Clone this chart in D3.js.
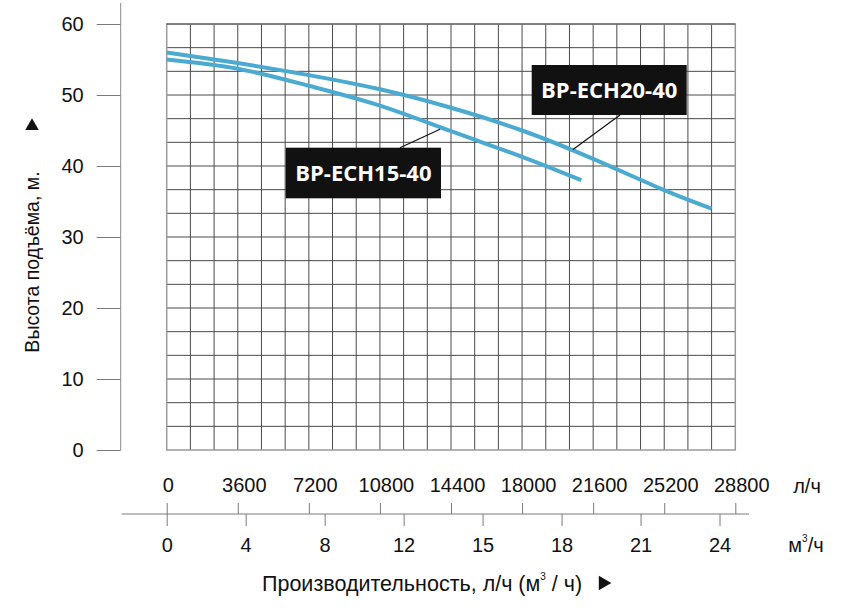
<!DOCTYPE html>
<html>
<head>
<meta charset="utf-8">
<script src="https://cdn.jsdelivr.net/npm/d3@7"></script>
<style>
  body { margin: 0; background: #fff; }
  svg { display: block; }
  text { font-family: "Liberation Sans", Arial, sans-serif; fill: #111; }
</style>
</head>
<body>
<svg id="chart" width="862" height="609"></svg>
<script>
/* Pump head curves BP-ECH15-40 / BP-ECH20-40 */

// flow in l/h, head in m
const flow2040 = [0, 3600, 7200, 10800, 14400, 18000, 21600, 25200, 27600];
const head2040 = [56.0, 54.5, 52.8, 50.8, 48.2, 45.0, 41.0, 36.6, 34.0];
const flow1540 = [0, 3600, 7200, 10800, 14400, 18000, 21000];
const head1540 = [55.0, 53.7, 51.3, 48.5, 44.9, 41.3, 38.0];

const yTicks = [0, 10, 20, 30, 40, 50, 60];
const lphTicks = [0, 3600, 7200, 10800, 14400, 18000, 21600, 25200, 28800];
const m3Labels = ['0', '4', '8', '12', '15', '18', '21', '24'];

const svg = d3.select('#chart');

const x = d3.scaleLinear().domain([0, 28800]).range([166.7, 735.3]);
const y = d3.scaleLinear().domain([0, 60]).range([450, 24]);

// grid: 24 columns x 18 rows
const g = svg.append('g');
g.selectAll('line.v').data(d3.range(1, 24)).join('line')
  .attr('x1', d => x(d * 1200)).attr('x2', d => x(d * 1200))
  .attr('y1', y(60)).attr('y2', y(0))
  .attr('stroke', '#4a4a4a').attr('stroke-width', 1);
g.selectAll('line.h').data(d3.range(1, 18)).join('line')
  .attr('x1', x(0)).attr('x2', x(28800))
  .attr('y1', d => y(d * 60 / 18)).attr('y2', d => y(d * 60 / 18))
  .attr('stroke', '#4a4a4a').attr('stroke-width', 1);
g.append('rect')
  .attr('x', x(0)).attr('y', y(60))
  .attr('width', x(28800) - x(0)).attr('height', y(0) - y(60))
  .attr('fill', 'none').attr('stroke', '#9a9a9a').attr('stroke-width', 1.5);
g.append('line').attr('x1', x(0)).attr('x2', x(28800)).attr('y1', y(60)).attr('y2', y(60))
  .attr('stroke', '#4a4a4a');

const tickFont = sel => sel
  .style('font-family', '"Liberation Sans", Arial, sans-serif')
  .style('font-size', '20px').style('fill', '#111');

// y axis
const yAxis = svg.append('g').attr('transform', 'translate(120.7,0)')
  .call(d3.axisLeft(y).tickValues(yTicks).tickSize(24).tickPadding(13));
yAxis.select('.domain').remove();
yAxis.append('line').attr('x1', 0).attr('x2', 0).attr('y1', 3).attr('y2', y(0))
  .attr('stroke', '#8a8a8a');
yAxis.selectAll('.tick line').attr('stroke', '#7a7a7a');
yAxis.selectAll('.tick text').call(tickFont);

svg.append('text')
  .attr('transform', 'translate(39,262) rotate(-90)')
  .attr('text-anchor', 'middle')
  .style('font-size', '19.5px')
  .text('Высота подъёма, м.');
svg.append('path')
  .attr('d', d3.symbol(d3.symbolTriangle, 80)())
  .attr('transform', 'translate(32,126)')
  .attr('fill', '#111');

// x axes (l/h on top, m3/h below)
const axisY = 514;
svg.append('line').attr('x1', 121.7).attr('x2', 749).attr('y1', axisY).attr('y2', axisY)
  .attr('stroke', '#7a7a7a');

const topAxis = svg.append('g').attr('transform', `translate(0,${axisY})`)
  .call(d3.axisTop(x).tickValues(lphTicks).tickSize(11).tickPadding(11).tickFormat(d3.format('d')));
topAxis.select('.domain').remove();
topAxis.selectAll('.tick line').attr('stroke', '#7a7a7a');
topAxis.selectAll('.tick text')
  .attr('dx', d => d === 0 ? 1 : 6)
  .call(tickFont);

// m3/h ticks are evenly spaced every 4000 l/h in the original drawing
const xm = d3.scaleLinear().domain([0, m3Labels.length - 1]).range([x(0), x(28000)]);
const botAxis = svg.append('g').attr('transform', `translate(0,${axisY})`)
  .call(d3.axisBottom(xm).tickValues(d3.range(m3Labels.length)).tickSize(12).tickPadding(12)
    .tickFormat(i => m3Labels[i]));
botAxis.select('.domain').remove();
botAxis.selectAll('.tick line').attr('stroke', '#7a7a7a');
botAxis.selectAll('.tick text').call(tickFont);

svg.append('text').attr('x', 807).attr('y', 493).attr('text-anchor', 'middle')
  .style('font-size', '20px').text('л/ч');
const m3 = svg.append('text').attr('x', 806).attr('y', 552).attr('text-anchor', 'middle')
  .style('font-size', '20px');
m3.append('tspan').text('м');
m3.append('tspan').attr('dy', -10).style('font-size', '10px').text('3');
m3.append('tspan').attr('dy', 10).text('/ч');

const xt = svg.append('text').attr('x', 262).attr('y', 591).style('font-size', '21.5px');
xt.append('tspan').text('Производительность, л/ч (м');
xt.append('tspan').attr('dy', -11).style('font-size', '10px').text('3');
xt.append('tspan').attr('dy', 11).text(' / ч)');
svg.append('path')
  .attr('d', d3.symbol(d3.symbolTriangle, 90)())
  .attr('transform', 'translate(603,583) rotate(90)')
  .attr('fill', '#111');

// curves
const line = d3.line()
  .x(d => x(d[0])).y(d => y(d[1]))
  .curve(d3.curveNatural);
const curves = [
  d3.zip(flow2040, head2040),
  d3.zip(flow1540, head1540)
];
svg.append('g').selectAll('path').data(curves).join('path')
  .attr('d', line)
  .attr('fill', 'none')
  .attr('stroke', '#4aaad2')
  .attr('stroke-width', 4)
  .attr('stroke-linecap', 'butt');

// labels with leader lines
const labels = [
  { text: 'BP-ECH20-40', x: 531.7, y: 65, w: 155, h: 50, lx1: 620, ly1: 115, lx2: 573, ly2: 149.5 },
  { text: 'BP-ECH15-40', x: 285.7, y: 147.7, w: 155.3, h: 50.6, lx1: 400, ly1: 147.7, lx2: 440, ly2: 129.3 }
];
const lab = svg.append('g').selectAll('g').data(labels).join('g');
lab.append('line')
  .attr('x1', d => d.lx1).attr('y1', d => d.ly1)
  .attr('x2', d => d.lx2).attr('y2', d => d.ly2)
  .attr('stroke', '#111').attr('stroke-width', 1.2);
lab.append('rect')
  .attr('x', d => d.x).attr('y', d => d.y)
  .attr('width', d => d.w).attr('height', d => d.h)
  .attr('fill', '#111');
lab.append('text')
  .attr('x', d => d.x + d.w / 2).attr('y', d => d.y + d.h / 2 + 8)
  .attr('text-anchor', 'middle')
  .style('font-family', '"Open Sans", sans-serif')
  .style('font-weight', 'bold')
  .style('font-size', '22px')
  .style('fill', '#fff')
  .text(d => d.text);
</script>
</body>
</html>
